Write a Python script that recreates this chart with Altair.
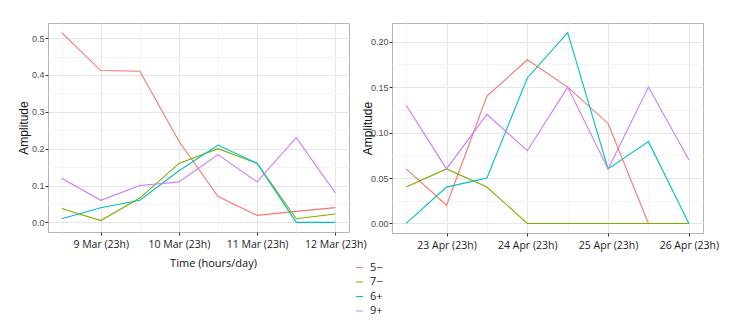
import altair as alt
import pandas as pd

series = ["5−", "7−", "6+", "9+"]
colors = ["#F8766D", "#7CAE00", "#00BFC4", "#C77CFF"]

mar_labels = ["9 Mar (23h)", "10 Mar (23h)", "11 Mar (23h)", "12 Mar (23h)"]
apr_labels = ["23 Apr (23h)", "24 Apr (23h)", "25 Apr (23h)", "26 Apr (23h)"]

mar_5m = [0.515, 0.412, 0.410, 0.220, 0.070, 0.019, 0.030, 0.040]
mar_7m = [0.038, 0.005, 0.066, 0.160, 0.200, 0.160, 0.010, 0.023]
mar_6p = [0.010, 0.040, 0.060, 0.140, 0.210, 0.160, 0.000, 0.000]
mar_9p = [0.120, 0.060, 0.100, 0.110, 0.184, 0.110, 0.230, 0.080]

apr_5m = [0.060, 0.020, 0.140, 0.180, 0.150, 0.110, 0.000, 0.000]
apr_7m = [0.040, 0.060, 0.040, 0.000, 0.000, 0.000, 0.000, 0.000]
apr_6p = [0.000, 0.040, 0.050, 0.160, 0.210, 0.060, 0.090, 0.000]
apr_9p = [0.130, 0.060, 0.120, 0.080, 0.150, 0.060, 0.150, 0.070]

mar_yticks = [0, 0.05, 0.1, 0.15, 0.2, 0.25, 0.3, 0.35, 0.4, 0.45, 0.5]
apr_yticks = [0, 0.025, 0.05, 0.075, 0.1, 0.125, 0.15, 0.175, 0.2]


def long_df(cols):
    rows = []
    for name, vals in zip(series, cols):
        for i, v in enumerate(vals):
            rows.append({"idx": i, "value": v, "series": name})
    return pd.DataFrame(rows)


mar_df = long_df([mar_5m, mar_7m, mar_6p, mar_9p])
apr_df = long_df([apr_5m, apr_7m, apr_6p, apr_9p])

LABEL_FONT = "Liberation Sans Narrow, Liberation Sans"
GRID_MAJOR = "#e6e6e6"
GRID_MINOR = "#f4f4f4"


def panel(df, labels, ydom, yticks, ymult, yfmt, xtitle, width, height, show_legend):
    arr = "[" + ",".join("'%s'" % l for l in labels) + "]"
    x_axis = alt.Axis(
        values=list(range(8)),
        labelExpr=f"datum.value % 2 == 1 ? {arr}[(datum.value-1)/2] : ''",
        title=xtitle if xtitle else None,
        gridColor={"condition": {"test": "datum.value % 2 == 1", "value": GRID_MAJOR}, "value": GRID_MINOR},
        tickColor={"condition": {"test": "datum.value % 2 == 1", "value": "#333333"}, "value": "transparent"},
        tickSize=3,
        domain=False,
        labelFont="Open Sans",
        labelFontSize=10.5,
        labelColor="#1a1a1a",
        labelPadding=4,
        titleFont="Open Sans",
        titleFontSize=11,
        titleFontWeight="normal",
        titleColor="#111111",
        titlePadding=8,
        titleX=165 if xtitle else alt.Undefined,
    )
    test = f"abs(datum.value*{ymult} - round(datum.value*{ymult})) < 0.001"
    y_axis = alt.Axis(
        values=yticks,
        labelExpr=f"{test} ? format(datum.value, '{yfmt}') : ''",
        title="Amplitude",
        gridColor={"condition": {"test": test, "value": GRID_MAJOR}, "value": GRID_MINOR},
        tickColor={"condition": {"test": test, "value": "#333333"}, "value": "transparent"},
        tickSize=3,
        domain=False,
        labelFont=LABEL_FONT,
        labelFontSize=9,
        labelColor="#4d4d4d",
        labelPadding=1,
        titleFont="Liberation Sans",
        titleFontSize=12,
        titleFontWeight="normal",
        titleColor="#111111",
        titleX=-18,
        titleBaseline="bottom",
    )
    legend = alt.Legend(
        title=None,
        orient="none",
        legendX=306,
        legendY=239,
        symbolType="stroke",
        symbolSize=50,
        symbolStrokeWidth=1,
        labelFont="Open Sans",
        labelFontSize=11,
        labelColor="#222222",
        rowPadding=2.5,
        labelOffset=5,
    ) if show_legend else None
    return alt.Chart(df).mark_line(strokeWidth=1.1).encode(
        x=alt.X("idx:Q", scale=alt.Scale(domain=[-0.35, 7.35], nice=False, zero=False), axis=x_axis),
        y=alt.Y("value:Q", scale=alt.Scale(domain=ydom, nice=False, zero=False), axis=y_axis),
        color=alt.Color("series:N", scale=alt.Scale(domain=series, range=colors),
                        sort=series, legend=legend),
        detail="series:N",
    ).properties(width=width, height=height)


left = panel(mar_df, mar_labels, [-0.026, 0.541], mar_yticks, 10, ".1f",
             "Time (hours/day)", 301, 209, True)
right = panel(apr_df, apr_labels, [-0.0105, 0.2205], apr_yticks, 20, ".2f",
              None, 311, 210, False)

chart = alt.hconcat(left, right, spacing=43, bounds="flush").resolve_scale(
    color="shared"
).configure_view(
    stroke="#b5b5b5", strokeWidth=1
).properties(
    padding={"left": 8, "top": 14, "right": 5, "bottom": 0},
    background="white",
)

chart.save("out.html", embed_options={"renderer": "svg", "actions": False})
